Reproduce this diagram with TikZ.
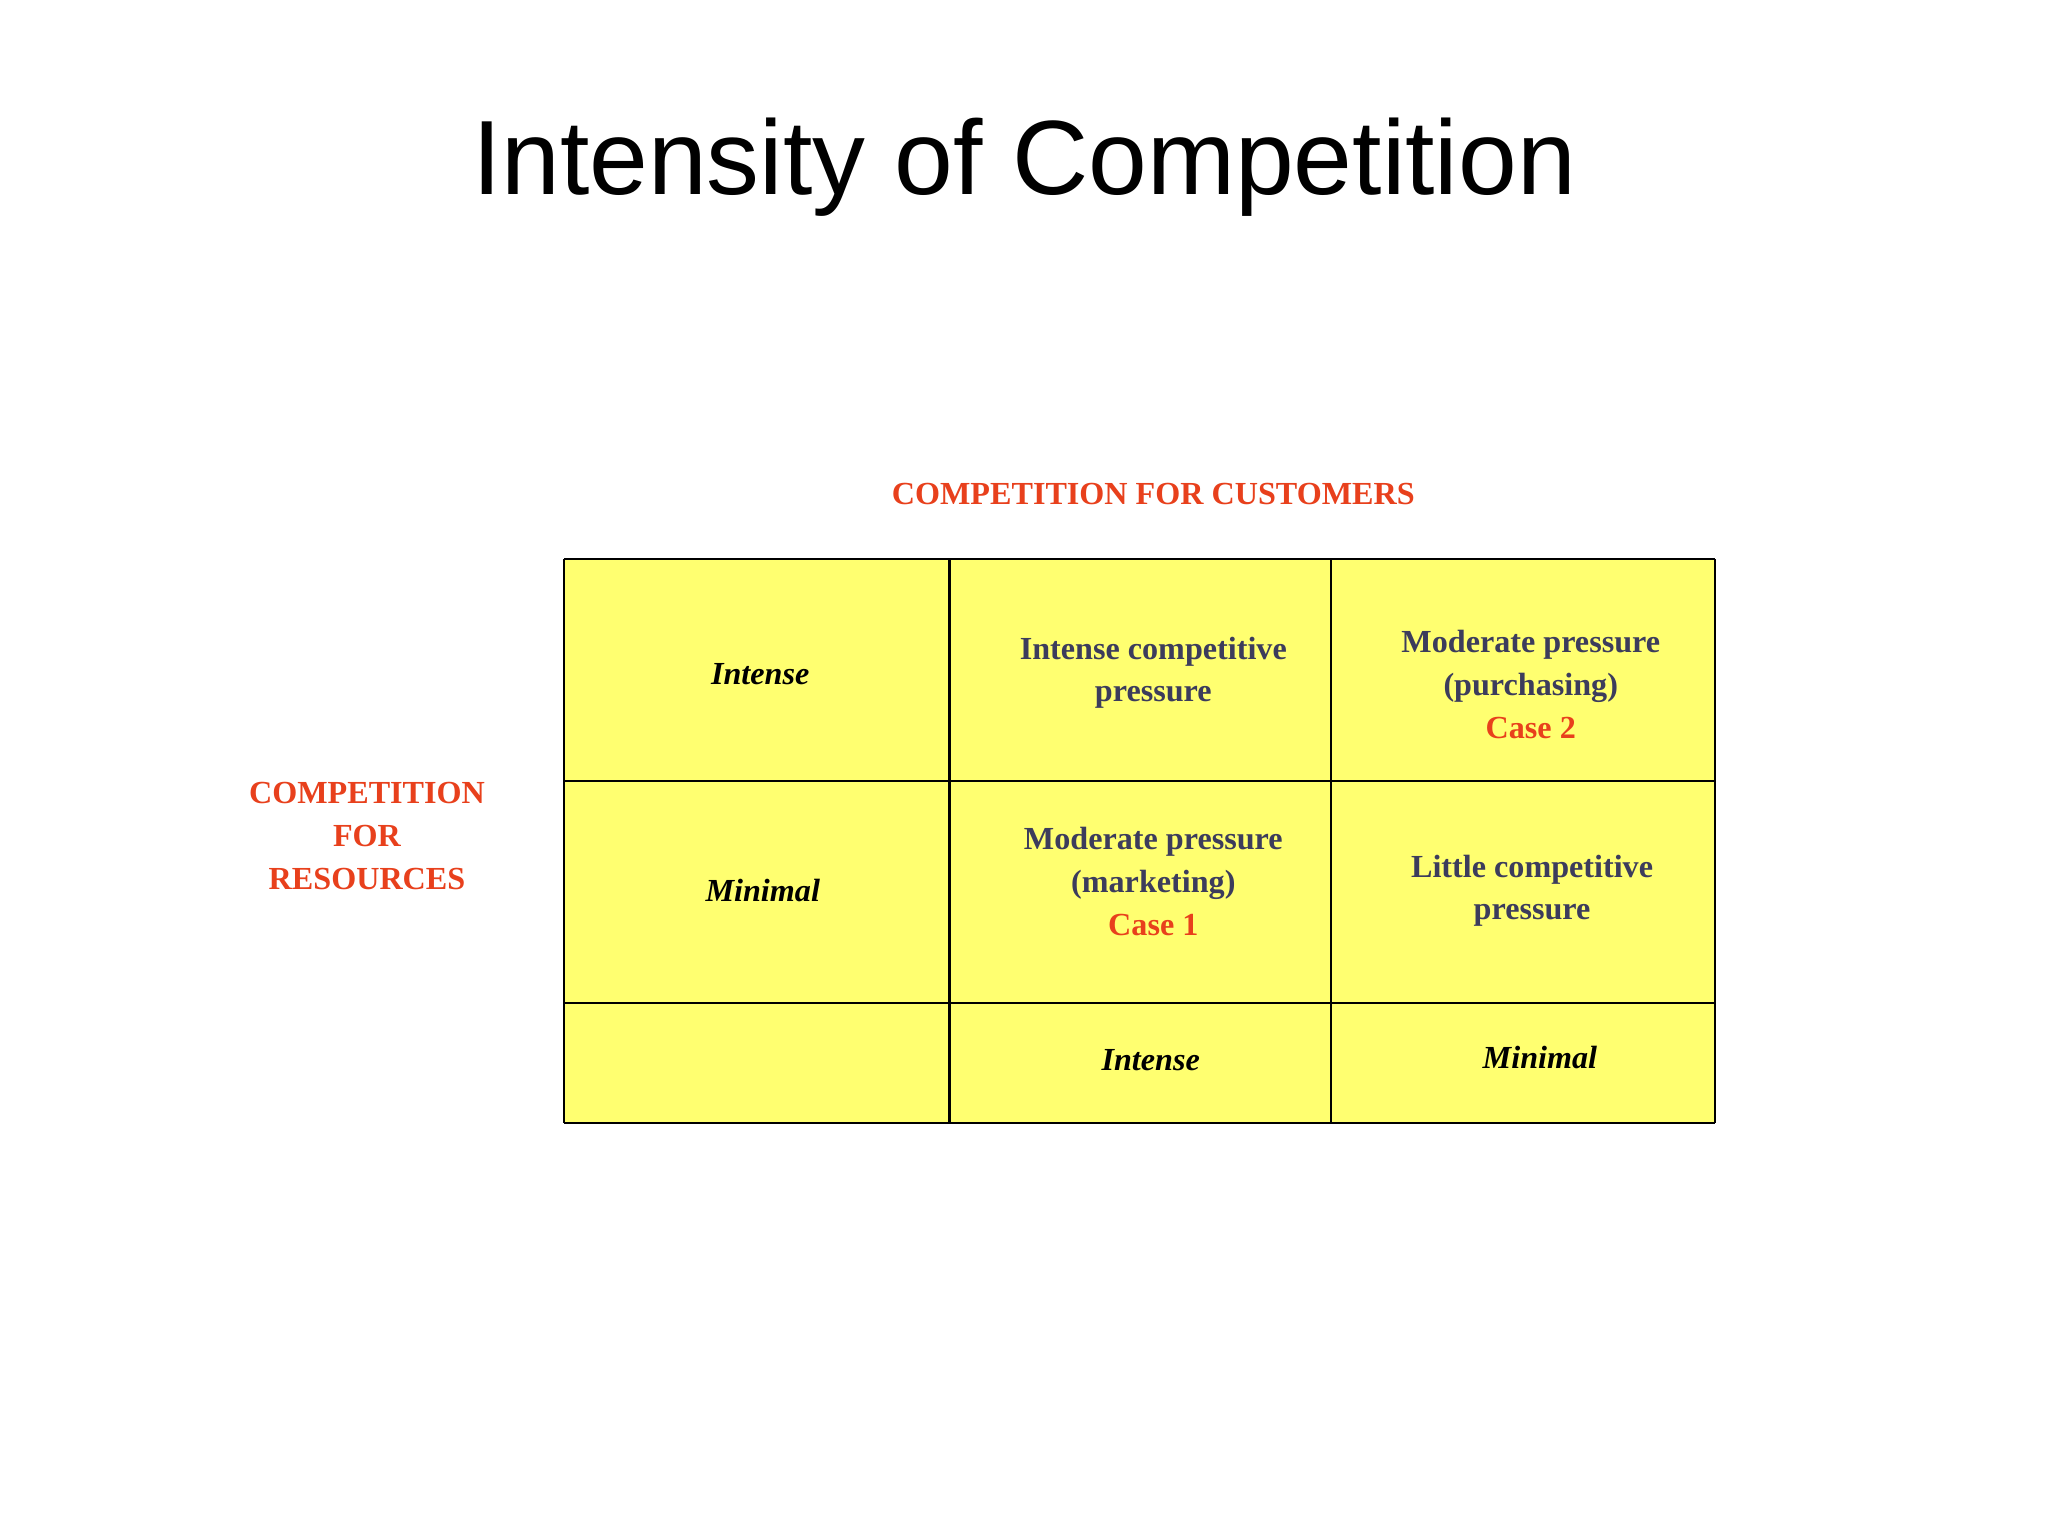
\documentclass[tikz,border=0pt]{standalone}
\usepackage{fontspec}
\setmainfont{Liberation Serif}
\newfontfamily\titlefont{Liberation Sans}
\definecolor{cellyellow}{HTML}{FFFF70}
\definecolor{txtblue}{HTML}{3C3C5C}
\definecolor{txtred}{HTML}{E8401C}
\begin{document}
\begin{tikzpicture}[x=0.01cm,y=-0.01cm,
  cell/.style={draw=black,line width=0.5pt,fill=cellyellow},
  body/.style={font=\fontsize{7}{9.3}\selectfont\bfseries,text=txtblue,align=center},
  axis/.style={font=\fontsize{7}{9.3}\selectfont\bfseries\itshape,text=black,align=center},
  red/.style={font=\fontsize{7}{9.3}\selectfont\bfseries,text=txtred,align=center}]
\useasboundingbox[fill=white] (0,0) rectangle (1568,1176);
\node[font=\titlefont\fontsize{23}{26}\selectfont] (title) at (784,128) {Intensity of Competition};
\node[red] (cust) at (883,378) {COMPETITION FOR CUSTOMERS};
\node[red] (res) at (281,640) {COMPETITION\\FOR\\RESOURCES};
\fill[cellyellow] (432,428) rectangle (1313,860);
\foreach \x in {432,727,1019,1313} \draw[line width=0.5pt] (\x,428) -- (\x,860);
\foreach \y in {428,598,768,860} \draw[line width=0.5pt] (432,\y) -- (1313,\y);
\node[axis] (r1) at (582,516) {Intense};
\node[axis] (r2) at (584,682) {Minimal};
\node[axis] (c1) at (881,812) {Intense};
\node[axis] (c2) at (1179,810) {Minimal};
\node[body] (a) at (883,515) {Intense competitive\\pressure};
\node[body] (b) at (1172,524) {Moderate pressure\\(purchasing)\\\textcolor{txtred}{Case 2}};
\node[body] (c) at (883,675) {Moderate pressure\\(marketing)\\\textcolor{txtred}{Case 1}};
\node[body] (d) at (1173,682) {Little competitive\\pressure};
\end{tikzpicture}
\end{document}
